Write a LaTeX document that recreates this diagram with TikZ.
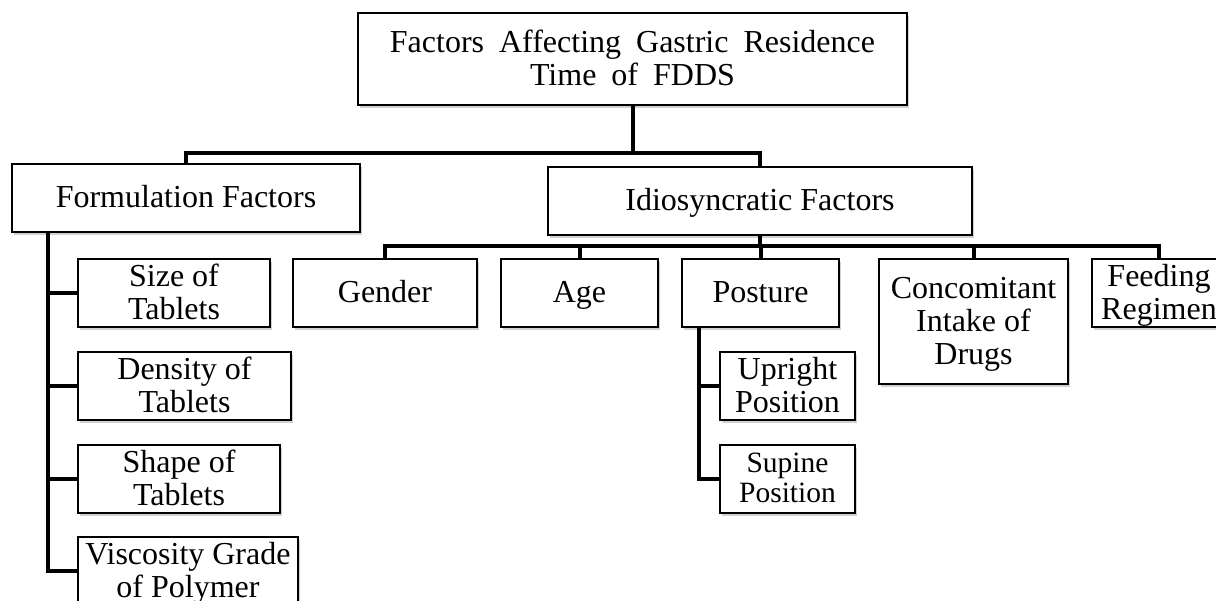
\documentclass[tikz,border=0pt]{standalone}
\usepackage{fontspec}
\setmainfont{Liberation Serif}
\usetikzlibrary{shadows}

\newcommand\boxfont{\fontsize{32}{33}\selectfont}
\newcommand\smallboxfont{\fontsize{29.5}{30}\selectfont}
\newcommand\headfont{\fontsize{32}{33}\selectfont\spaceskip=15pt\relax}
% line struts: keep every baseline at the same place in its box
\newcommand\ls{\rule[-7pt]{0pt}{33pt}}
\newcommand\sls{\rule[-7pt]{0pt}{30pt}}

\tikzset{
  box/.style={draw, line width=1.4pt, fill=white, inner sep=0pt, align=center,
    font=\boxfont,
    drop shadow={shadow xshift=1.5pt, shadow yshift=-2.5pt, fill=black, opacity=0.18}},
  conn/.style={draw, line width=4pt, line join=miter}
}

\begin{document}
\begin{tikzpicture}[x=1pt, y=-1pt]
  \clip (0,0) rectangle (1216,600);
  \fill[white] (0,0) rectangle (1216,600);

  % root
  \node[box, font=\headfont, minimum width=549pt, minimum height=92pt] (title) at (632.5,59)
    {\ls Factors Affecting Gastric Residence\\\ls Time of FDDS};

  % first level
  \node[box, minimum width=348pt, minimum height=68pt] (form) at (186,198) {\ls Formulation Factors};
  \node[box, minimum width=424pt, minimum height=68pt] (idio) at (760,201) {\ls Idiosyncratic Factors};

  % formulation factors
  \node[box, minimum width=192pt, minimum height=68pt] (size)  at (174,293)   {\ls Size of\\\ls Tablets};
  \node[box, minimum width=213pt, minimum height=68pt] (dens)  at (184.5,386) {\ls Density of\\\ls Tablets};
  \node[box, minimum width=202pt, minimum height=68pt] (shape) at (179,479)   {\ls Shape of\\\ls Tablets};
  \node[box, minimum width=220pt, minimum height=68pt] (visc)  at (188,571)   {\ls Viscosity Grade\\\ls of Polymer};

  % idiosyncratic factors
  \node[box, minimum width=184pt, minimum height=68pt]  (gender)  at (385,293)    {\ls Gender};
  \node[box, minimum width=157pt, minimum height=68pt]  (age)     at (579.5,293)  {\ls Age};
  \node[box, minimum width=157pt, minimum height=68pt]  (posture) at (760.5,293)  {\ls Posture};
  \node[box, minimum width=189pt, minimum height=125pt] (conc)    at (973.5,321.5){\ls Concomitant\\\ls Intake of\\\ls Drugs};
  \node[box, minimum width=134pt, minimum height=68pt]  (feed)    at (1159,293)   {\ls Feeding\\\ls Regimen};

  % posture
  \node[box, minimum width=135pt, minimum height=68pt] (upright) at (787.5,386) {\ls Upright\\\ls Position};
  \node[box, font=\smallboxfont, minimum width=135pt, minimum height=68pt] (supine) at (787.5,479) {\sls Supine\\\sls Position};

  % bus points and spines
  \coordinate (bus1) at (632.5,153);
  \coordinate (bus2) at (760,246);
  \coordinate (fspine) at (48,232);
  \coordinate (pspine) at (699,327);

  % root to first level
  \draw[conn] (title.south) -- (bus1);
  \draw[conn] (form.north) |- (bus1) -| (idio.north);

  % idiosyncratic bus
  \draw[conn] (idio.south) -- (bus2);
  \draw[conn] (gender.north) |- (bus2) -| (feed.north);
  \draw[conn] (age.north) -- (age.north |- bus2);
  \draw[conn] (posture.north) -- (posture.north |- bus2);
  \draw[conn] (conc.north) -- (conc.north |- bus2);

  % formulation spine
  \draw[conn] (fspine) |- (visc.west);
  \draw[conn] (fspine |- size.west) -- (size.west);
  \draw[conn] (fspine |- dens.west) -- (dens.west);
  \draw[conn] (fspine |- shape.west) -- (shape.west);

  % posture spine
  \draw[conn] (pspine) |- (supine.west);
  \draw[conn] (pspine |- upright.west) -- (upright.west);
\end{tikzpicture}
\end{document}
